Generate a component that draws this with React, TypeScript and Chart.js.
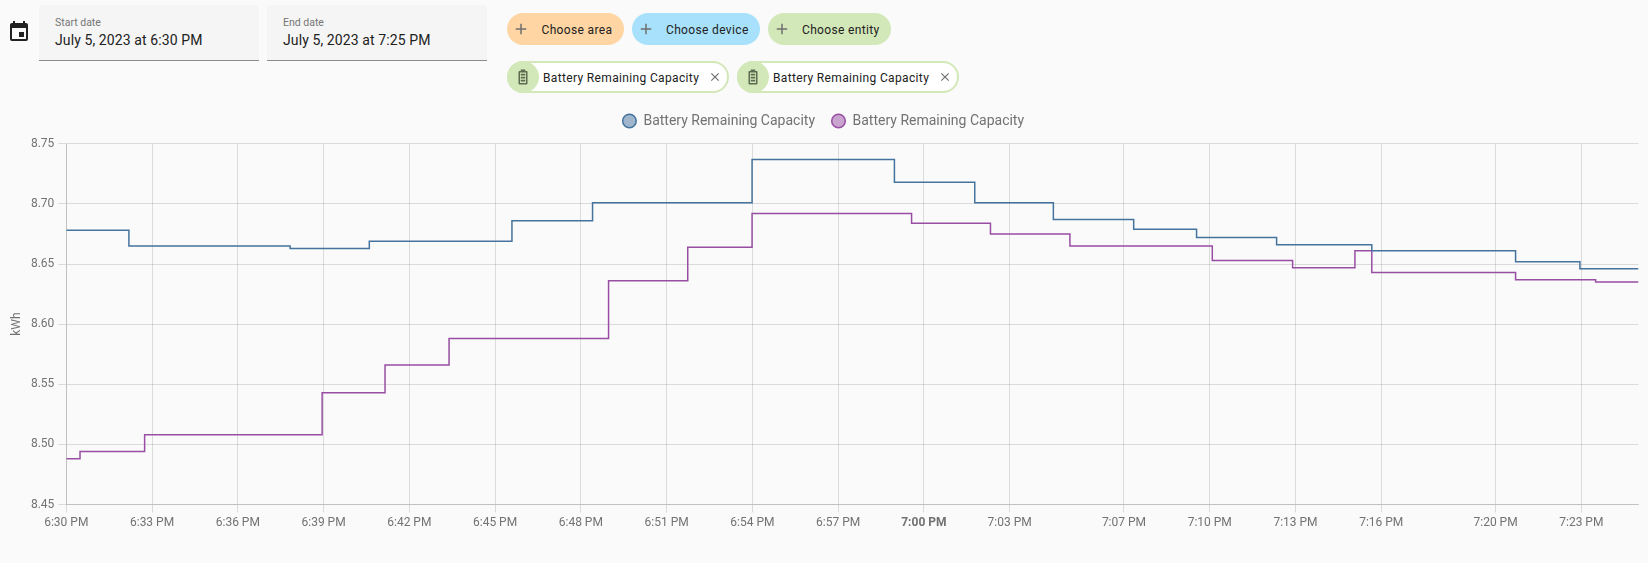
import React, { useEffect, useRef } from "react";
import { Chart, registerables } from "chart.js";

Chart.register(...registerables);

const seriesName = "Battery Remaining Capacity";
const yUnit = "kWh";

const blueMinutes = [0, 2.19, 7.83, 10.6, 15.59, 18.41, 23.99, 28.97, 31.78, 34.53, 37.34, 39.54, 42.34, 45.67, 50.7, 52.95, 55];
const blueValues = [8.678, 8.665, 8.663, 8.669, 8.686, 8.701, 8.737, 8.718, 8.701, 8.687, 8.679, 8.672, 8.666, 8.661, 8.652, 8.646, 8.646];

const purpleMinutes = [0, 0.48, 2.74, 8.95, 11.15, 13.39, 18.97, 21.74, 23.99, 29.57, 32.33, 35.11, 40.09, 42.9, 45.08, 45.67, 50.7, 53.5, 55];
const purpleValues = [8.488, 8.494, 8.508, 8.543, 8.566, 8.588, 8.636, 8.664, 8.692, 8.684, 8.675, 8.665, 8.653, 8.647, 8.661, 8.643, 8.637, 8.635, 8.635];

const tickMinutes = [0, 3, 6, 9, 12, 15, 18, 21, 24, 27, 30, 33, 37, 40, 43, 46, 50, 53];
const tickLabels = ["6:30 PM", "6:33 PM", "6:36 PM", "6:39 PM", "6:42 PM", "6:45 PM", "6:48 PM", "6:51 PM", "6:54 PM", "6:57 PM", "7:00 PM", "7:03 PM", "7:07 PM", "7:10 PM", "7:13 PM", "7:16 PM", "7:20 PM", "7:23 PM"];
const majorTickMinute = 30;

const dateFields = [
  { label: "Start date", value: "July 5, 2023 at 6:30 PM", left: 39 },
  { label: "End date", value: "July 5, 2023 at 7:25 PM", left: 267 },
];
const addChips = [
  { label: "Choose area", left: 507, width: 117, bg: "#ffd5a3", textLeft: 34.5 },
  { label: "Choose device", left: 632, width: 128, bg: "#a8e1fb", textLeft: 34 },
  { label: "Choose entity", left: 768, width: 123, bg: "#d3e8b8", textLeft: 34 },
];
const entityChips = [
  { label: seriesName, left: 507 },
  { label: seriesName, left: 737 },
];

const font = "Roboto, sans-serif";
const gridColor = "rgba(0,0,0,0.12)";
const textColor = "#727272";

function toPoints(xs: number[], ys: number[]) {
  return xs.map((x, i) => ({ x, y: ys[i] }));
}

const legendGapPlugin = {
  id: "legendGap",
  beforeLayout(chart: any) {
    const legend = chart.legend;
    if (legend && !legend.__gapApplied) {
      const fit = legend.fit.bind(legend);
      legend.fit = () => {
        fit();
        legend.height += 5.8;
      };
      legend.__gapApplied = true;
    }
  },
};

function DateField({ label, value, left }: { label: string; value: string; left: number }) {
  return (
    <div style={{ position: "absolute", left, top: 5, width: 220, height: 55, background: "#f5f5f5", borderRadius: "4px 4px 0 0", borderBottom: "1px solid #8c8c8c", boxSizing: "content-box" }}>
      <div style={{ position: "absolute", left: 16, top: 11, fontSize: 10.5, lineHeight: "14px", color: "#757575", whiteSpace: "nowrap" }}>{label}</div>
      <div style={{ position: "absolute", left: 16, top: 25, fontSize: 14, letterSpacing: 0.1, lineHeight: "20px", color: "#212121", whiteSpace: "nowrap" }}>{value}</div>
    </div>
  );
}

function AddChip({ label, left, width, bg, textLeft }: { label: string; left: number; width: number; bg: string; textLeft: number }) {
  return (
    <div style={{ position: "absolute", left, top: 13, width, height: 32, borderRadius: 16, background: bg }}>
      <svg width="18" height="18" viewBox="0 0 24 24" style={{ position: "absolute", left: 5, top: 7 }}>
        <path d="M19,13H13V19H11V13H5V11H11V5H13V11H19V13Z" fill="#6f6f6f" />
      </svg>
      <div style={{ position: "absolute", left: textLeft, top: 1, lineHeight: "32px", fontSize: 12, letterSpacing: 0.35, color: "#212121", whiteSpace: "nowrap" }}>{label}</div>
    </div>
  );
}

function EntityChip({ label, left }: { label: string; left: number }) {
  return (
    <div style={{ position: "absolute", left, top: 61, width: 221.5, height: 32, borderRadius: 16, background: "#ffffff", border: "2px solid #d3e8b8", boxSizing: "border-box" }}>
      <div style={{ position: "absolute", left: -2, top: -2, width: 32, height: 32, borderRadius: 16, background: "#d3e8b8" }}>
        <svg width="18" height="18" viewBox="0 0 24 24" style={{ position: "absolute", left: 7, top: 7 }}>
          <path d="M16,20H8V6H16M16.67,4H15V2H9V4H7.33A1.33,1.33 0 0,0 6,5.33V20.67C6,21.4 6.6,22 7.33,22H16.67A1.33,1.33 0 0,0 18,20.67V5.33C18,4.6 17.4,4 16.67,4M9,7.5H15V10H9M9,11.5H15V14H9M9,15.5H15V18H9Z" fill="#5d6b50" fillRule="evenodd" />
        </svg>
      </div>
      <div style={{ position: "absolute", left: 34, top: -1, lineHeight: "32px", fontSize: 12, letterSpacing: 0.35, color: "#212121", whiteSpace: "nowrap" }}>{label}</div>
      <svg width="14" height="14" viewBox="0 0 24 24" style={{ position: "absolute", left: 199, top: 7 }}>
        <path d="M19,6.41L17.59,5L12,10.59L6.41,5L5,6.41L10.59,12L5,17.59L6.41,19L12,13.41L17.59,19L19,17.59L13.41,12L19,6.41Z" fill="#6f6f6f" />
      </svg>
    </div>
  );
}

export default function App() {
  const canvasRef = useRef<HTMLCanvasElement | null>(null);

  useEffect(() => {
    document.body.style.margin = "0";
    document.body.style.background = "#fafafa";
    const chart = new Chart(canvasRef.current!, {
      type: "line",
      plugins: [legendGapPlugin],
      data: {
        datasets: [
          { label: seriesName, data: toPoints(blueMinutes, blueValues), borderColor: "#44739e", backgroundColor: "#44739e7f", borderWidth: 1.5, pointRadius: 0, stepped: "before" as const, fill: false },
          { label: seriesName, data: toPoints(purpleMinutes, purpleValues), borderColor: "#984ea3", backgroundColor: "#984ea37f", borderWidth: 1.5, pointRadius: 0, stepped: "before" as const, fill: false },
        ],
      },
      options: {
        animation: false,
        responsive: false,
        devicePixelRatio: 1,
        layout: { padding: { left: 0, right: 9.5, top: 0.5, bottom: 0 } },
        scales: {
          x: {
            type: "linear",
            min: 0,
            max: 55,
            afterBuildTicks: (scale: any) => {
              scale.ticks = tickMinutes.map((value) => ({ value }));
            },
            afterFit: (scale: any) => {
              scale.height = 35.5;
            },
            grid: { color: gridColor, tickLength: 8 },
            border: { color: gridColor },
            ticks: {
              color: textColor,
              maxRotation: 0,
              autoSkip: false,
              padding: 3,
              font: (ctx: any) => ({ family: font, size: 12, weight: ctx.tick && ctx.tick.value === majorTickMinute ? "bold" : "normal" }),
              callback: (value: any) => tickLabels[tickMinutes.indexOf(Number(value))],
            },
          },
          y: {
            min: 8.45,
            max: 8.75,
            afterFit: (scale: any) => {
              scale.width = 58.3;
            },
            grid: { color: gridColor, tickLength: 8 },
            border: { color: gridColor },
            title: { display: true, text: yUnit, color: textColor, font: { family: font, size: 12 }, padding: { top: 2, bottom: 0 } },
            ticks: {
              color: textColor,
              stepSize: 0.05,
              padding: 4,
              font: { family: font, size: 12 },
              callback: (value: any) => Number(value).toFixed(2),
            },
          },
        },
        plugins: {
          tooltip: { enabled: false },
          title: { display: false },
          legend: {
            display: true,
            position: "top",
            labels: { usePointStyle: true, boxWidth: 14, boxHeight: 9.6, color: textColor, font: { family: font, size: 14 }, padding: 16.5 },
          },
        },
      },
    } as any);
    return () => chart.destroy();
  }, []);

  return (
    <div style={{ position: "relative", width: 1648, height: 563, background: "#fafafa", fontFamily: font, overflow: "hidden" }}>
      <svg width="24" height="24" viewBox="0 0 24 24" style={{ position: "absolute", left: 7, top: 20 }}>
        <path d="M19,19H5V8H19M16,1V3H8V1H6V3H5C3.89,3 3,3.89 3,5V19A2,2 0 0,0 5,21H19A2,2 0 0,0 21,19V5C21,3.89 20.1,3 19,3H18V1M17,12H12V17H17V12Z" fill="#212121" />
      </svg>
      {dateFields.map((f) => (
        <DateField key={f.label} {...f} />
      ))}
      {addChips.map((c) => (
        <AddChip key={c.label} {...c} />
      ))}
      {entityChips.map((c) => (
        <EntityChip key={c.left} {...c} />
      ))}
      <canvas ref={canvasRef} width={1640} height={443} style={{ position: "absolute", left: 8, top: 97, width: 1640, height: 443 }} />
    </div>
  );
}
